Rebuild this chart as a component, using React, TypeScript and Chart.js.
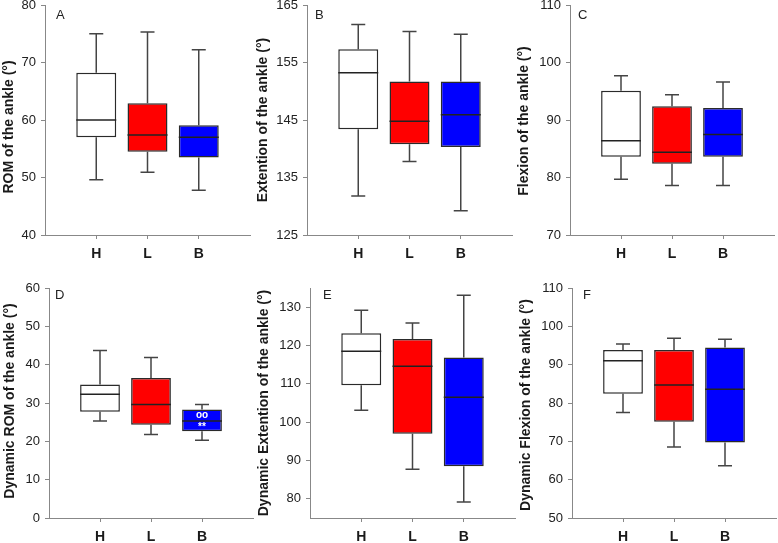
import React, { useEffect, useRef } from 'react';
import { Chart, registerables } from 'chart.js';

Chart.register(...registerables);
Chart.defaults.font.family = '"Liberation Sans", Arial, sans-serif';

const categories = ['H', 'L', 'B'];
const boxColors = ['#ffffff', '#ff0000', '#0000ff'];

// A: ROM of the ankle
const romMin = [49.6, 50.9, 47.8];
const romQ1 = [57.0, 54.5, 53.5];
const romMedian = [60.0, 57.4, 57.0];
const romQ3 = [68.2, 62.9, 59.1];
const romMax = [75.0, 75.3, 72.2];
const romTicks = [40, 50, 60, 70, 80];

// B: Extention of the ankle
const extMin = [131.8, 137.8, 129.2];
const extQ1 = [143.4, 140.8, 140.3];
const extMedian = [153.2, 144.8, 145.9];
const extQ3 = [157.3, 151.7, 151.7];
const extMax = [161.6, 160.4, 159.9];
const extTicks = [125, 135, 145, 155, 165];

// C: Flexion of the ankle
const flexMin = [79.7, 78.6, 78.6];
const flexQ1 = [83.6, 82.4, 83.6];
const flexMedian = [86.4, 84.4, 87.5];
const flexQ3 = [95.1, 92.4, 92.1];
const flexMax = [97.7, 94.4, 96.6];
const flexTicks = [70, 80, 90, 100, 110];

// D: Dynamic ROM of the ankle
const dynRomMin = [25.3, 21.8, 20.3];
const dynRomQ1 = [27.7, 24.3, 22.6];
const dynRomMedian = [32.3, 29.6, 25.3];
const dynRomQ3 = [34.8, 36.5, 28.3];
const dynRomMax = [43.7, 41.9, 29.6];
const dynRomTicks = [0, 10, 20, 30, 40, 50, 60];
const dynRomMarkTexts = ['oo', '**'];
const dynRomMarkValues = [26.9, 23.8];
const dynRomMarkCategory = ['B', 'B'];

// E: Dynamic Extention of the ankle
const dynExtMin = [103.1, 87.7, 79.2];
const dynExtQ1 = [109.6, 97.0, 88.5];
const dynExtMedian = [118.5, 114.6, 106.5];
const dynExtQ3 = [123.2, 121.7, 116.9];
const dynExtMax = [129.2, 125.9, 133.1];
const dynExtTicks = [80, 90, 100, 110, 120, 130];

// F: Dynamic Flexion of the ankle
const dynFlexMin = [77.5, 68.5, 63.6];
const dynFlexQ1 = [82.4, 75.1, 69.7];
const dynFlexMedian = [91.0, 84.7, 83.6];
const dynFlexQ3 = [93.8, 93.8, 94.5];
const dynFlexMax = [95.4, 96.9, 96.6];
const dynFlexTicks = [50, 60, 70, 80, 90, 100, 110];

type PanelDef = {
  letter: string;
  title: string;
  min: number[]; q1: number[]; med: number[]; q3: number[]; max: number[];
  yMin: number; yMax: number; ticks: number[];
  marks?: { text: string; value: number; cat: string }[];
  axisX: number; plotTop: number; plotW: number;
  titleX: number; titleY: number; letterX: number; letterY: number;
};

const PLOT_H = 230;
const Y_W = 56;
const PAD_T = 12;
const X_H = 40;
const PAD_R = 4;

const panels: PanelDef[] = [
  { letter: 'A', title: 'ROM of the ankle (°)', min: romMin, q1: romQ1, med: romMedian, q3: romQ3, max: romMax,
    yMin: 40, yMax: 80, ticks: romTicks,
    axisX: 45, plotTop: 5, plotW: 205, titleX: 9, titleY: 127, letterX: 56, letterY: 15 },
  { letter: 'B', title: 'Extention of the ankle (°)', min: extMin, q1: extQ1, med: extMedian, q3: extQ3, max: extMax,
    yMin: 125, yMax: 165, ticks: extTicks,
    axisX: 307, plotTop: 5, plotW: 205, titleX: 263, titleY: 120, letterX: 315, letterY: 15 },
  { letter: 'C', title: 'Flexion of the ankle (°)', min: flexMin, q1: flexQ1, med: flexMedian, q3: flexQ3, max: flexMax,
    yMin: 70, yMax: 110, ticks: flexTicks,
    axisX: 570, plotTop: 5, plotW: 204, titleX: 524, titleY: 121, letterX: 578, letterY: 15 },
  { letter: 'D', title: 'Dynamic ROM of the ankle (°)', min: dynRomMin, q1: dynRomQ1, med: dynRomMedian, q3: dynRomQ3, max: dynRomMax,
    yMin: 0, yMax: 60, ticks: dynRomTicks,
    marks: dynRomMarkTexts.map((t, i) => ({ text: t, value: dynRomMarkValues[i], cat: dynRomMarkCategory[i] })),
    axisX: 49, plotTop: 288, plotW: 204, titleX: 10, titleY: 401, letterX: 55, letterY: 295 },
  { letter: 'E', title: 'Dynamic Extention of the ankle (°)', min: dynExtMin, q1: dynExtQ1, med: dynExtMedian, q3: dynExtQ3, max: dynExtMax,
    yMin: 75, yMax: 135, ticks: dynExtTicks,
    axisX: 310, plotTop: 288, plotW: 205, titleX: 264, titleY: 403, letterX: 323, letterY: 295 },
  { letter: 'F', title: 'Dynamic Flexion of the ankle (°)', min: dynFlexMin, q1: dynFlexQ1, med: dynFlexMedian, q3: dynFlexQ3, max: dynFlexMax,
    yMin: 50, yMax: 110, ticks: dynFlexTicks,
    axisX: 572, plotTop: 288, plotW: 204, titleX: 526, titleY: 405, letterX: 583, letterY: 295 },
];

function Panel({ p }: { p: PanelDef }) {
  const ref = useRef<HTMLCanvasElement>(null);
  const left = p.axisX - Y_W;
  const top = p.plotTop - PAD_T;
  const W = Y_W + p.plotW + PAD_R;
  const H = PAD_T + PLOT_H + X_H;

  useEffect(() => {
    const canvas = ref.current!;
    const extras = {
      id: 'boxExtras',
      beforeDatasetsDraw(chart: any) {
        const ctx = chart.ctx;
        const y = chart.scales.y;
        const meta = chart.getDatasetMeta(0);
        ctx.save();
        ctx.strokeStyle = '#444';
        ctx.lineWidth = 1.5;
        meta.data.forEach((bar: any, i: number) => {
          const x = bar.x;
          const cap = 7;
          const yMax = y.getPixelForValue(p.max[i]);
          const yQ3 = y.getPixelForValue(p.q3[i]);
          const yQ1 = y.getPixelForValue(p.q1[i]);
          const yMin = y.getPixelForValue(p.min[i]);
          ctx.beginPath();
          ctx.moveTo(x, yMax); ctx.lineTo(x, yQ3);
          ctx.moveTo(x, yQ1); ctx.lineTo(x, yMin);
          ctx.moveTo(x - cap, yMax); ctx.lineTo(x + cap, yMax);
          ctx.moveTo(x - cap, yMin); ctx.lineTo(x + cap, yMin);
          ctx.stroke();
        });
        ctx.restore();
      },
      afterDatasetsDraw(chart: any) {
        const ctx = chart.ctx;
        const y = chart.scales.y;
        const meta = chart.getDatasetMeta(0);
        ctx.save();
        ctx.strokeStyle = '#222';
        ctx.lineWidth = 1.5;
        meta.data.forEach((bar: any, i: number) => {
          const ym = y.getPixelForValue(p.med[i]);
          ctx.beginPath();
          ctx.moveTo(bar.x - bar.width / 2, ym);
          ctx.lineTo(bar.x + bar.width / 2, ym);
          ctx.stroke();
        });
        if (p.marks) {
          ctx.fillStyle = '#ffffff';
          ctx.font = 'bold 10px "Liberation Sans", Arial, sans-serif';
          ctx.textAlign = 'center';
          ctx.textBaseline = 'middle';
          p.marks.forEach((m) => {
            const bar = meta.data[categories.indexOf(m.cat)];
            ctx.fillText(m.text, bar.x, y.getPixelForValue(m.value));
          });
        }
        ctx.restore();
      },
      afterDraw(chart: any) {
        const ctx = chart.ctx;
        ctx.save();
        ctx.fillStyle = '#1a1a1a';
        ctx.font = 'bold 14px "Liberation Sans", Arial, sans-serif';
        ctx.textAlign = 'center';
        ctx.textBaseline = 'middle';
        ctx.translate(p.titleX - left, p.titleY - top);
        ctx.rotate(-Math.PI / 2);
        ctx.fillText(p.title, 0, 0);
        ctx.restore();
        ctx.save();
        ctx.fillStyle = '#222';
        ctx.font = '13px "Liberation Sans", Arial, sans-serif';
        ctx.textAlign = 'left';
        ctx.textBaseline = 'middle';
        ctx.fillText(p.letter, p.letterX - left, p.letterY - top);
        ctx.restore();
      },
    };

    const chart = new Chart(canvas, {
      type: 'bar',
      data: {
        datasets: [
          {
            data: categories.map((c, i) => ({ x: i + 1, y: [p.q1[i], p.q3[i]] })) as any,
            backgroundColor: boxColors,
            borderColor: '#2a2a2a',
            borderWidth: 1.5,
            borderSkipped: false,
            categoryPercentage: 1,
            barPercentage: 0.78,
          } as any,
        ],
      },
      options: {
        responsive: false,
        animation: false,
        devicePixelRatio: 1,
        layout: { padding: { top: PAD_T, right: PAD_R, left: 0, bottom: 0 } },
        plugins: { legend: { display: false }, tooltip: { enabled: false } },
        scales: {
          x: {
            type: 'linear',
            min: 0,
            max: 4,
            offset: false,
            bounds: 'ticks',
            afterBuildTicks: (s: any) => {
              s.ticks = categories.map((c, i) => ({ value: i + 1 }));
            },
            afterFit: (s: any) => {
              s.height = X_H;
              s.paddingLeft = 0;
              s.paddingRight = 0;
            },
            ticks: {
              callback: (v: any) => categories[Number(v) - 1] ?? '',
              color: '#1a1a1a',
              font: { size: 14, weight: 'bold' },
              padding: 7,
              maxRotation: 0,
              autoSkip: false,
            },
            grid: { offset: false, drawOnChartArea: false, drawTicks: true, tickLength: 4, color: '#888', lineWidth: 1 },
            border: { display: true, color: '#888', width: 1 },
          },
          y: {
            type: 'linear',
            min: p.yMin,
            max: p.yMax,
            afterBuildTicks: (s: any) => {
              s.ticks = p.ticks.map((v) => ({ value: v }));
            },
            afterFit: (s: any) => {
              s.width = Y_W;
              s.paddingTop = 0;
              s.paddingBottom = 0;
            },
            ticks: {
              color: '#222',
              font: { size: 13 },
              padding: 5,
              autoSkip: false,
            },
            grid: { drawOnChartArea: false, drawTicks: true, tickLength: 4, color: '#888', lineWidth: 1 },
            border: { display: true, color: '#888', width: 1 },
          },
        },
      } as any,
      plugins: [extras],
    });
    return () => chart.destroy();
  }, []);

  return (
    <canvas
      ref={ref}
      width={W}
      height={H}
      style={{ position: 'absolute', left, top, width: W, height: H }}
    />
  );
}

export default function App() {
  return (
    <div
      style={{
        position: 'fixed',
        left: 0,
        top: 0,
        width: 778,
        height: 543,
        overflow: 'hidden',
        background: '#ffffff',
      }}
    >
      {panels.map((p) => (
        <Panel key={p.letter} p={p} />
      ))}
    </div>
  );
}
